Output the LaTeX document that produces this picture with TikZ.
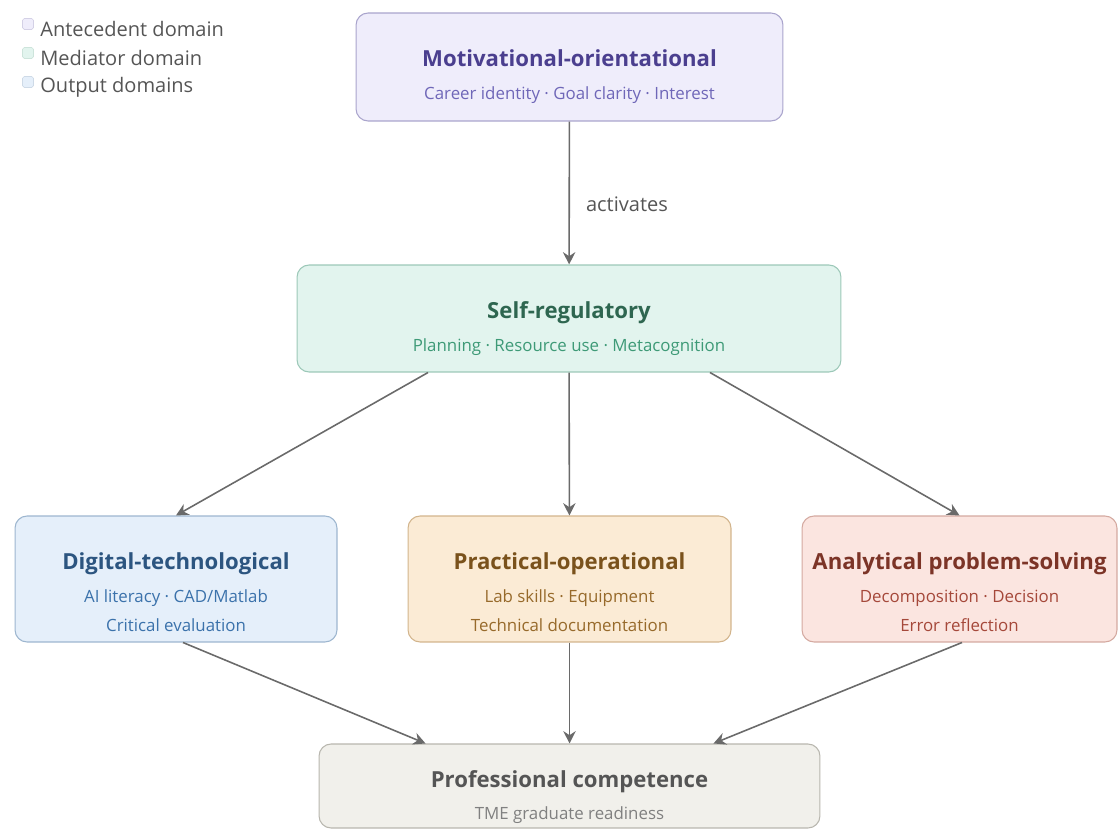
\documentclass[tikz,border=0pt]{standalone}
\usepackage{fontspec}
\setmainfont{Open Sans}
\usetikzlibrary{arrows.meta,positioning}

\definecolor{motFill}{HTML}{EFEDFB}\definecolor{motLine}{HTML}{A9A4CC}
\definecolor{motTit}{HTML}{4B3F8F}\definecolor{motSub}{HTML}{6F67B8}
\definecolor{regFill}{HTML}{E2F4EE}\definecolor{regLine}{HTML}{9CC8B8}
\definecolor{regTit}{HTML}{2E6650}\definecolor{regSub}{HTML}{3E9A77}
\definecolor{digFill}{HTML}{E5EFFA}\definecolor{digLine}{HTML}{9DB6CF}
\definecolor{digTit}{HTML}{2C5580}\definecolor{digSub}{HTML}{3B72AB}
\definecolor{pracFill}{HTML}{FBEBD5}\definecolor{pracLine}{HTML}{D2B48C}
\definecolor{pracTit}{HTML}{7A521C}\definecolor{pracSub}{HTML}{976A2B}
\definecolor{anaFill}{HTML}{FBE5E0}\definecolor{anaLine}{HTML}{D4A9A0}
\definecolor{anaTit}{HTML}{7C3427}\definecolor{anaSub}{HTML}{A5483A}
\definecolor{profFill}{HTML}{F1F0EB}\definecolor{profLine}{HTML}{B8B6AE}
\definecolor{profTit}{HTML}{555555}\definecolor{profSub}{HTML}{808080}
\definecolor{flecha}{HTML}{6A6A6A}

\newcommand{\titulo}[2]{{\fontsize{12.6}{16.4}\selectfont\bfseries\color{#1}#2}}
\newcommand{\lema}[2]{{\color{#1}#2}}

\tikzset{
  caja/.style={draw=#1Line, fill=#1Fill, rounded corners=0.24cm,
    line width=0.6pt, inner sep=0pt},
  texto/.style={align=center, inner sep=0pt,
    font=\fontsize{9.6}{16.4}\selectfont},
  flujo/.style={draw=flecha, line width=0.9pt,
    -{Stealth[length=7pt,width=7pt]}},
  leyenda/.style={anchor=west, inner sep=0pt, text=profTit,
    font=\fontsize{11.4}{13}\selectfont}
}

\begin{document}
\begin{tikzpicture}[x=0.02cm, y=-0.02cm]
    \useasboundingbox (0,0) rectangle (1118,830);

    % Leyenda
    \foreach \col/\yy/\txt/\nom in {mot/29/Antecedent domain/legA,
        reg/58/Mediator domain/legB, dig/87/Output domains/legC}{
      \node[fill=\col Fill, draw=\col Line!50, rounded corners=1pt,
        minimum size=0.22cm, inner sep=0pt] (\nom i) at (28,\yy-5) {};
      \node[leyenda] (\nom) at (40,\yy) {\txt};
    }

    % Cajas de dominio
    \node[caja=mot, minimum width=8.54cm, minimum height=2.16cm]
      (mot) at (569.5,67) {};
    \node[caja=reg, minimum width=10.88cm, minimum height=2.14cm]
      (reg) at (569,318.5) {};
    \node[caja=dig, minimum width=6.44cm, minimum height=2.52cm]
      (dig) at (176,579) {};
    \node[caja=prac, minimum width=6.46cm, minimum height=2.52cm]
      (prac) at (569.5,579) {};
    \node[caja=ana, minimum width=6.3cm, minimum height=2.52cm]
      (ana) at (959.5,579) {};
    \node[caja=prof, minimum width=10.02cm, minimum height=1.68cm]
      (prof) at (569.5,786) {};

    % Textos
    \node[texto] (motT) at ([yshift=-0.2cm]mot.center)
      {\titulo{motTit}{Motivational-orientational}\\[2.3pt]
       \lema{motSub}{Career identity · Goal clarity · Interest}};
    \node[texto] (regT) at ([yshift=-0.2cm]reg.center)
      {\titulo{regTit}{Self-regulatory}\\[2.3pt]
       \lema{regSub}{Planning · Resource use · Metacognition}};
    \node[texto] (digT) at ([yshift=-0.26cm]dig.center)
      {\titulo{digTit}{Digital-technological}\\[2.3pt]
       \lema{digSub}{AI literacy · CAD/Matlab}\\
       \lema{digSub}{Critical evaluation}};
    \node[texto] (pracT) at ([yshift=-0.26cm]prac.center)
      {\titulo{pracTit}{Practical-operational}\\[2.3pt]
       \lema{pracSub}{Lab skills · Equipment}\\
       \lema{pracSub}{Technical documentation}};
    \node[texto] (anaT) at ([yshift=-0.26cm]ana.center)
      {\titulo{anaTit}{Analytical problem-solving}\\[2.3pt]
       \lema{anaSub}{Decomposition · Decision}\\
       \lema{anaSub}{Error reflection}};
    \node[texto] (profT) at ([yshift=-0.22cm]prof.center)
      {\titulo{profTit}{Professional competence}\\[2.3pt]
       \lema{profSub}{TME graduate readiness}};

    % Flechas
    \draw[flujo] (mot) -- node[pos=0.58, right=0.32cm, leyenda, anchor=west]
      (act) {activates} (reg);
    \draw[flujo] ([xshift=-2.82cm]reg.south) -- (dig.north);
    \draw[flujo] (reg) -- (prac);
    \draw[flujo] ([xshift=2.82cm]reg.south) -- (ana.north);
    \draw[flujo] ([xshift=0.14cm]dig.south) -- ([xshift=-2.88cm]prof.north);
    \draw[flujo] (prac) -- (prof);
    \draw[flujo] ([xshift=0.05cm]ana.south) -- ([xshift=2.88cm]prof.north);
\end{tikzpicture}
\end{document}
